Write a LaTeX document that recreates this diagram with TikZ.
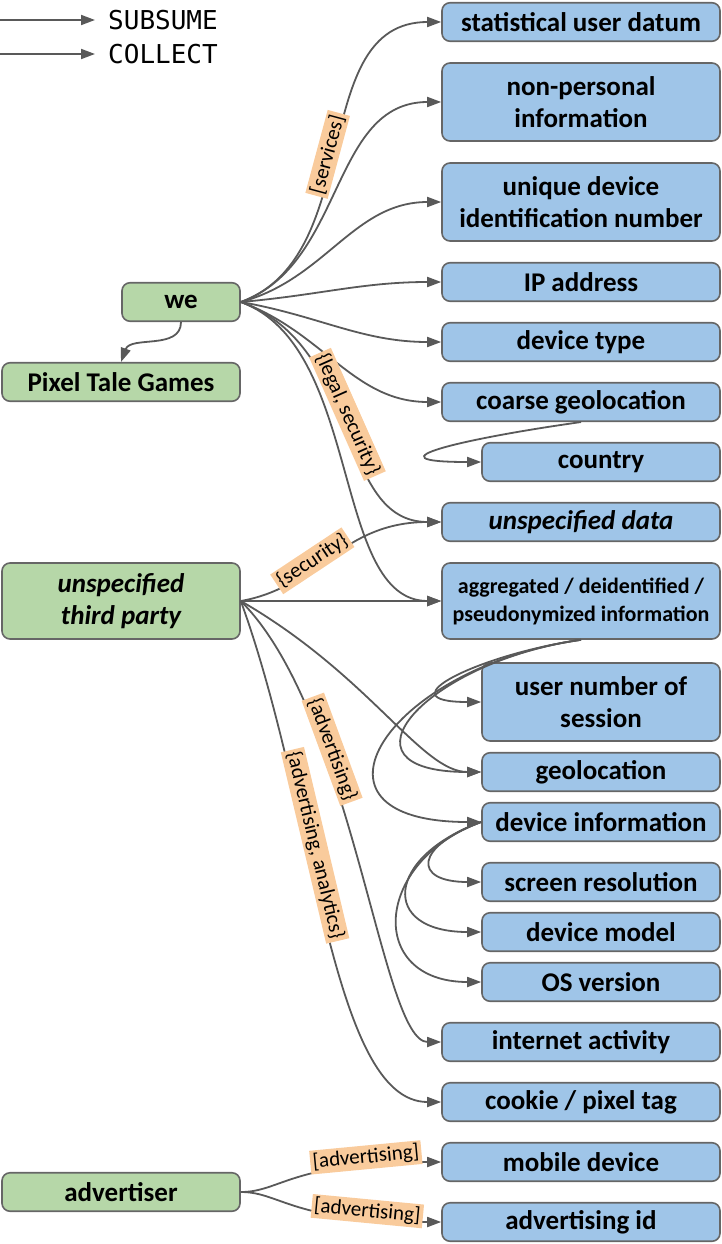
\documentclass[tikz,border=0pt]{standalone}
\usepackage{fontspec}
\setmainfont{Carlito}
\newfontfamily\legendfont{DejaVu Sans Mono}
\usetikzlibrary{arrows.meta}
\definecolor{data_fill}{HTML}{9FC5E8}
\definecolor{actor_fill}{HTML}{B6D7A8}
\definecolor{purpose_fill}{HTML}{F9CB9C}
\definecolor{box_border}{HTML}{666666}
\definecolor{edge_gray}{HTML}{595959}
\tikzset{
    box/.style={draw=box_border,line width=1.6pt,rounded corners=8pt,align=center,inner sep=2pt,minimum height=38.5pt},
    databox/.style={box,fill=data_fill,minimum width=278pt,font=\fontsize{27}{32}\selectfont\bfseries},
    subbox/.style={databox,minimum width=238pt},
    actorbox/.style={box,fill=actor_fill,minimum width=238pt,font=\fontsize{27}{32}\selectfont\bfseries},
    purpose/.style={fill=purpose_fill,text=black,inner sep=2.5pt,font=\fontsize{21}{24}\selectfont,sloped,above=-5pt},
    collect/.style={-{Triangle[length=14pt,width=10pt]},edge_gray,line width=1.8pt},
    subsume/.style={collect},
    legendtext/.style={inner sep=0pt,anchor=west,font=\legendfont\fontsize{26}{30}\selectfont},
}
\begin{document}
\begin{tikzpicture}[x=1pt,y=1pt]
  \useasboundingbox (0,0) rectangle (722,-1244);
  % legend
  \coordinate (leg_subsume) at (0,-20);
  \coordinate (leg_collect) at (0,-54);
  \node[legendtext] (txt_subsume) at (108,-20) {SUBSUME};
  \node[legendtext] (txt_collect) at (108,-54) {COLLECT};
  \draw[subsume] (leg_subsume) -- ([xshift=-13pt]txt_subsume.west);
  \draw[collect] (leg_collect) -- ([xshift=-13pt]txt_collect.west);
  % data types
  \node[databox] (stat) at (581,-22) {statistical user datum};
  \node[databox,minimum height=78pt] (nonpers) at (581,-102) {non-personal\\information};
  \node[databox,minimum height=78pt] (udid) at (581,-202) {unique device\\identification number};
  \node[databox] (ip) at (581,-282) {IP address};
  \node[databox] (devtype) at (581,-342) {device type};
  \node[databox] (coarse) at (581,-402) {coarse geolocation};
  \node[subbox] (country) at (601,-462) {country};
  \node[databox,font=\fontsize{27}{32}\selectfont\bfseries\itshape] (unspdata) at (581,-522) {unspecified data};
  \node[databox,minimum height=76pt,font=\fontsize{22}{28}\selectfont\bfseries] (aggr) at (581,-601) {aggregated / deidentified /\\pseudonymized information};
  \node[subbox,minimum height=78pt] (usernum) at (601,-702) {user number of\\session};
  \node[subbox] (geo) at (601,-772) {geolocation};
  \node[subbox] (devinfo) at (601,-822) {device information};
  \node[subbox] (screen) at (601,-882) {screen resolution};
  \node[subbox] (model) at (601,-932) {device model};
  \node[subbox] (osver) at (601,-982) {OS version};
  \node[databox] (inet) at (581,-1042) {internet activity};
  \node[databox] (cookie) at (581,-1102) {cookie / pixel tag};
  \node[databox] (mobile) at (581,-1162) {mobile device};
  \node[databox] (adid) at (581,-1222) {advertising id};
  % entities
  \node[actorbox,minimum width=118pt] (we) at (181,-302) {we};
  \node[actorbox] (pixel) at (121,-382) {Pixel Tale Games};
  \node[actorbox,minimum height=76pt,font=\fontsize{27}{32}\selectfont\bfseries\itshape] (third) at (121,-601) {unspecified\\third party};
  \node[actorbox] (adv) at (121,-1192) {advertiser};
  % subsume edges
  \draw[subsume] (we.south) to[out=-90,in=70] (pixel.north);
  \draw[subsume] (coarse.south) to[out=188,in=180,distance=118pt] (country.west);
  \draw[subsume] (aggr.south) to[out=188,in=180,distance=100pt] (usernum.west);
  \draw[subsume] (aggr.south) to[out=188,in=180,distance=155pt] (geo.west);
  \draw[subsume] (aggr.south) to[out=188,in=180,distance=195pt] (devinfo.west);
  \draw[subsume] (devinfo.west) to[out=200,in=180,distance=70pt] (screen.west);
  \draw[subsume] (devinfo.west) to[out=200,in=180,distance=102pt] (model.west);
  \draw[subsume] (devinfo.west) to[out=200,in=180,distance=115pt] (osver.west);
  % collect edges of we
  \draw[collect] (we.east) to[out=20,in=180] node[purpose,pos=0.47] {[services]} (stat.west);
  \draw[collect] (we.east) to[out=20,in=180] (nonpers.west);
  \draw[collect] (we.east) to[out=15,in=180] (udid.west);
  \draw[collect] (we.east) to[out=5,in=180] (ip.west);
  \draw[collect] (we.east) to[out=-10,in=180] (devtype.west);
  \draw[collect] (we.east) to[out=-20,in=180] (coarse.west);
  \draw[collect] (we.east) to[out=-20,in=180,out distance=130pt,in distance=105pt] node[purpose,pos=0.46,above=-2pt] {\{legal, security\}} (unspdata.west);
  \draw[collect] (we.east) to[out=-20,in=180,out distance=130pt,in distance=110pt] (aggr.west);
  % collect edges of the third party
  \draw[collect] (third.east) to[out=10,in=180,out distance=80pt,in distance=100pt] node[purpose,pos=0.4] {\{security\}} (unspdata.west);
  \draw[collect] (third.east) -- (aggr.west);
  \draw[collect] (third.east) to[out=-30,in=180,out distance=150pt,in distance=60pt] (geo.west);
  \draw[collect] (third.east) to[out=-45,in=180,out distance=160pt,in distance=60pt] node[purpose,pos=0.31] {\{advertising\}} (inet.west);
  \draw[collect] (third.east) to[out=-70,in=180,out distance=220pt,in distance=110pt] node[purpose,pos=0.37] {\{advertising, analytics\}} (cookie.west);
  % collect edges of the advertiser
  \draw[collect] (adv.east) to[out=0,in=180,out distance=40pt,in distance=150pt] node[purpose,pos=0.8] {[advertising]} (mobile.west);
  \draw[collect] (adv.east) to[out=0,in=180,out distance=40pt,in distance=150pt] node[purpose,pos=0.8] {[advertising]} (adid.west);
\end{tikzpicture}
\end{document}
